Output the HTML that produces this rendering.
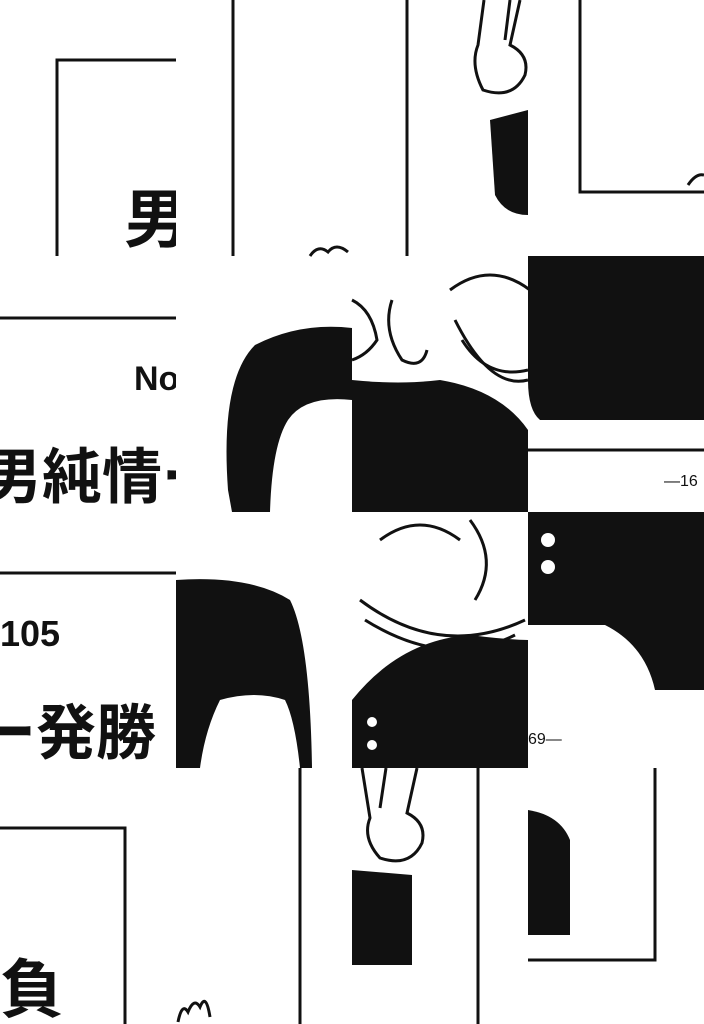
<!DOCTYPE html>
<html><head><meta charset="utf-8"><style>
html,body{margin:0;padding:0;background:#fff;}
svg{display:block}
text{font-family:"Liberation Sans","Noto Sans CJK JP",sans-serif;font-weight:bold;fill:#111}
</style></head><body>
<svg width="704" height="1024" viewBox="0 0 704 1024" xmlns="http://www.w3.org/2000/svg">
<defs>
<clipPath id="c00"><rect x="0" y="0" width="176" height="256"/></clipPath>
<clipPath id="c01"><rect x="0" y="256" width="176" height="256"/></clipPath>
<clipPath id="c02"><rect x="0" y="512" width="176" height="256"/></clipPath>
<clipPath id="c03"><rect x="0" y="768" width="176" height="256"/></clipPath>
<clipPath id="c11"><rect x="176" y="256" width="176" height="256"/></clipPath>
<clipPath id="c12"><rect x="176" y="512" width="176" height="256"/></clipPath>
<clipPath id="c21"><rect x="352" y="256" width="176" height="256"/></clipPath>
<clipPath id="c22"><rect x="352" y="512" width="176" height="256"/></clipPath>
</defs>
<rect width="704" height="1024" fill="#fff"/>
<g stroke="#111" stroke-width="3" fill="none">
<path d="M57 256 V60 H176"/>
<path d="M233 0 V256"/>
<path d="M407 0 V256"/>
<path d="M580 0 V192 H704"/>
<path d="M688 185 q8 -12 16 -10"/>
<path d="M310 256 q8 -12 18 -4 q8 -10 20 0"/>
<path d="M0 318 H176"/>
<path d="M528 450 H704"/>
<path d="M352 300 q20 10 25 40 q-10 15 -25 20"/>
<path d="M392 300 q-10 30 10 60 q20 10 25 -10"/>
<path d="M450 290 q40 -30 80 0"/>
<path d="M455 320 q35 70 73 60"/>
<path d="M462 340 q25 40 66 30"/>
<path d="M0 573 H176"/>
<path d="M380 540 q40 -30 80 0"/>
<path d="M360 600 q80 60 165 20"/>
<path d="M365 620 q80 50 150 15"/>
<path d="M470 520 q30 40 5 80"/>
<path d="M0 828 H125 V1024"/>
<path d="M300 768 V1024"/>
<path d="M478 768 V1024"/>
<path d="M655 768 V960 H528"/>
<path d="M178 1022 q4 -20 10 -10 q6 -15 12 -5 q6 -15 10 10"/>
<path d="M362 768 l8 50 q-8 20 10 40 q30 10 42 -15 q5 -20 -15 -30 l10 -45 M386 768 l-6 40"/>
<path d="M484 0 l-6 45 q-8 20 5 45 q30 10 42 -15 q5 -20 -15 -30 l10 -45 M510 0 l-5 40"/>
</g>
<g fill="#111">
<path d="M490 120 L528 110 V215 Q505 215 495 195 Z"/>
<g clip-path="url(#c11)"><path d="M228 490 Q220 380 255 345 Q300 322 352 328 V400 Q305 395 288 420 Q272 445 270 512 H232 Z"/></g>
<g clip-path="url(#c21)"><path d="M352 380 Q400 385 440 380 Q500 390 528 430 V512 H352 Z"/></g>
<path d="M528 256 H704 V420 H540 Q528 410 528 380 Z"/>
<g clip-path="url(#c12)"><path d="M176 580 Q250 575 290 600 Q310 640 312 768 H300 Q295 720 285 700 Q255 690 220 700 Q205 730 200 768 H176 Z"/></g>
<g clip-path="url(#c22)"><path d="M352 700 Q400 640 470 635 Q510 640 528 640 V768 H352 Z"/></g>
<path d="M528 512 H704 V690 H655 Q645 645 605 625 H528 Z"/>
<path d="M352 870 L412 875 V965 H352 Z"/>
<path d="M528 810 Q560 815 570 840 V935 H528 Z"/>
</g>
<g fill="#fff"><circle cx="548" cy="540" r="7"/><circle cx="548" cy="567" r="7"/><circle cx="372" cy="722" r="5"/><circle cx="372" cy="745" r="5"/></g>
<g clip-path="url(#c00)"><text x="124" y="242" font-size="64">男</text></g>
<g clip-path="url(#c01)">
<text x="134" y="390" font-size="34">No.</text>
<text x="-18" y="498" font-size="60">男純情ー</text></g>
<g clip-path="url(#c02)">
<text x="0" y="646" font-size="36">105</text>
<text x="-24" y="754" font-size="60">ー発勝</text></g>
<g clip-path="url(#c03)"><text x="0" y="1012" font-size="64">負</text></g>
<text x="664" y="486" font-size="16" style="font-weight:normal">—16</text>
<text x="528" y="744" font-size="16" style="font-weight:normal">69—</text>
</svg>
</body></html>
